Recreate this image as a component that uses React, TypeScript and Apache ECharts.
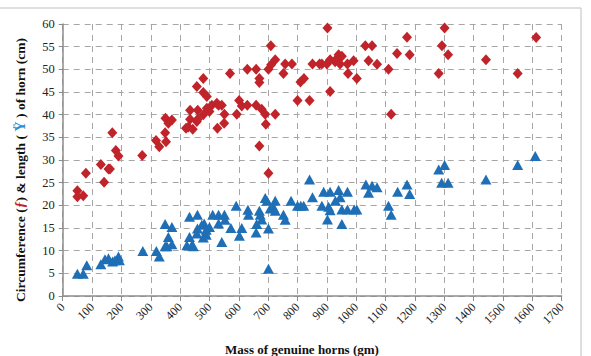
import React, { useEffect, useRef } from "react";
import * as echarts from "echarts";

const circumference: [number, number][] = [
  [50, 23.2], [50, 21.9], [70, 22.1], [79, 27.1], [130, 29], [141, 25.1], [156, 28], [161, 28],
  [169, 36], [181, 32.1], [190, 30.9], [271, 31], [318, 34.3], [329, 32.9], [349, 36], [352, 34],
  [350, 39.2], [360, 38.1], [372, 38.8], [420, 37], [428, 37.3], [434, 41], [434, 39], [443, 36.8],
  [457, 38.5], [457, 46.2], [460, 41], [460, 39], [479, 48], [479, 44.9], [479, 40], [491, 44],
  [491, 41.4], [500, 40.7], [508, 42.1], [525, 42.5], [527, 37], [531, 42.1], [542, 42.1],
  [550, 38.1], [551, 40.1], [570, 49.1], [593, 40.1], [601, 43.1], [610, 41.9], [629, 42.1],
  [629, 50], [659, 42.1], [659, 50], [670, 48], [670, 47.1], [670, 33.1], [678, 41.2], [690, 40.1],
  [692, 37.9], [701, 50], [701, 27.1], [709, 55.2], [710, 51], [724, 52.1], [724, 40.1],
  [752, 49.1], [758, 51.2], [781, 51.2], [800, 43.1], [810, 47.2], [822, 48], [841, 43.1],
  [851, 51.2], [875, 51.2], [883, 51.2], [900, 51.2], [902, 59.1], [911, 52.1], [911, 45.1],
  [928, 51.7], [932, 52.2], [940, 53.2], [945, 51.2], [951, 52.9], [970, 51.2], [972, 49.1],
  [991, 51.9], [1002, 48], [1031, 55.2], [1042, 51.9], [1054, 55.2], [1071, 51.1], [1110, 50],
  [1119, 40.1], [1139, 53.5], [1173, 57.1], [1182, 53.2], [1281, 49.1], [1292, 55.2],
  [1301, 59.1], [1313, 53.2], [1442, 52.1], [1550, 49.1], [1613, 57],
];

const length: [number, number][] = [
  [50, 4.9], [70, 4.9], [82, 6.8], [130, 7], [144, 8.1], [156, 8.3], [170, 7.6], [178, 7.9],
  [190, 8.7], [193, 7.9], [273, 9.9], [319, 9.9], [329, 8.7], [349, 15.9], [372, 15.2],
  [360, 13], [355, 11], [372, 11.4], [349, 11], [432, 17.5], [459, 17.9], [432, 13], [423, 11.2],
  [440, 11.2], [445, 11], [459, 14.9], [457, 13.8], [474, 15.7], [482, 16], [489, 14.6],
  [500, 15.2], [479, 12.9], [489, 13.5], [511, 17.9], [531, 17.9], [551, 17.9], [553, 16.8],
  [531, 16], [573, 15], [542, 11.9], [591, 19.9], [610, 15], [602, 13.3], [631, 19], [633, 17.9],
  [670, 18.8], [673, 17.9], [678, 16.9], [661, 15.9], [659, 14], [701, 14.9], [690, 21.6],
  [696, 21], [724, 21], [718, 19.5], [707, 19.3], [724, 18.8], [752, 17.9], [758, 16.8],
  [701, 6], [778, 21], [800, 19.9], [811, 19.9], [821, 19.9], [841, 25.7], [851, 21.8],
  [883, 19.9], [889, 23], [911, 23], [940, 23.4], [970, 23], [945, 21.8], [929, 21], [906, 19.7],
  [911, 18.9], [902, 16.9], [951, 15.9], [951, 19.1], [970, 19.1], [993, 19.1], [1002, 19.1],
  [1033, 24.6], [1054, 24.3], [1071, 24], [1042, 22.8], [1141, 23], [1173, 24.6], [1182, 22.5],
  [1110, 19.9], [1119, 17.9], [1281, 27.9], [1301, 28.9], [1291, 25], [1313, 25], [1442, 25.7],
  [1550, 28.9], [1610, 30.9],
];

const xTitle = "Mass of genuine horns (gm)";
const serif = "Liberation Serif";

export default function App() {
  const ref = useRef<HTMLDivElement>(null);
  useEffect(() => {
    document.body.style.margin = "0";
    const chart = echarts.init(ref.current!, null, { renderer: "svg" });
    const dash = { color: "#a6a6a6", width: 1, type: [6, 5] as number[] };
    chart.setOption({
      animation: false,
      backgroundColor: "#fff",
      grid: { left: 62.7, right: 29.3, top: 24, bottom: 60, containLabel: false },
      xAxis: {
        type: "value",
        min: 0,
        max: 1700,
        interval: 100,
        axisLine: { show: true, onZero: false, lineStyle: { color: "#8c8c8c", width: 1.5 } },
        axisTick: { show: true, length: 5, lineStyle: { color: "#8c8c8c" } },
        axisLabel: {
          rotate: 45,
          fontFamily: serif,
          fontSize: 12,
          color: "#222",
          margin: 9,
          formatter: (v: number) => String(v),
        },
        splitLine: { show: true, lineStyle: dash },
      },
      yAxis: {
        type: "value",
        min: 0,
        max: 60,
        interval: 5,
        axisLine: { show: true, onZero: false, lineStyle: { color: "#8c8c8c", width: 1.5 } },
        axisTick: { show: true, length: 4, lineStyle: { color: "#8c8c8c" } },
        axisLabel: { fontFamily: serif, fontSize: 12.5, color: "#222", margin: 8 },
        splitLine: { show: true, lineStyle: dash },
      },
      series: [
        {
          name: "Circumference",
          type: "scatter",
          symbol: "diamond",
          symbolSize: [10, 11],
          data: circumference,
          itemStyle: { color: "#c1232b", opacity: 1 },
        },
        {
          name: "Length",
          type: "scatter",
          symbol: "triangle",
          symbolSize: [11, 10],
          data: length,
          itemStyle: { color: "#1f6fb6", opacity: 1 },
        },
      ],
      graphic: [
        {
          type: "rect",
          shape: { x: -2, y: 8, width: 583, height: 360 },
          style: { fill: "none", stroke: "#bfbfbf", lineWidth: 1 },
          silent: true,
        },
        {
          type: "text",
          x: 302,
          y: 349,
          style: {
            text: xTitle,
            fontFamily: serif,
            fontWeight: "bold",
            fontSize: 13,
            fill: "#111",
            align: "center",
            verticalAlign: "middle",
          },
        },
        {
          type: "text",
          x: 20,
          y: 170,
          rotation: Math.PI / 2,
          style: {
            text: "{a|Circumference (}{r|ƒ}{a|) & length (}{b| Ÿ }{a|) of horn (cm)}",
            align: "center",
            verticalAlign: "middle",
            rich: {
              a: { fontFamily: serif, fontWeight: "bold", fontSize: 13.5, fill: "#111" },
              r: { fontFamily: serif, fontWeight: "bold", fontStyle: "italic", fontSize: 14, fill: "#c1232b" },
              b: { fontFamily: serif, fontWeight: "bold", fontSize: 14, fill: "#2a8fd8" },
            },
          },
        },
      ],
    });
    return () => chart.dispose();
  }, []);
  return <div ref={ref} style={{ width: 591, height: 356 }} />;
}
